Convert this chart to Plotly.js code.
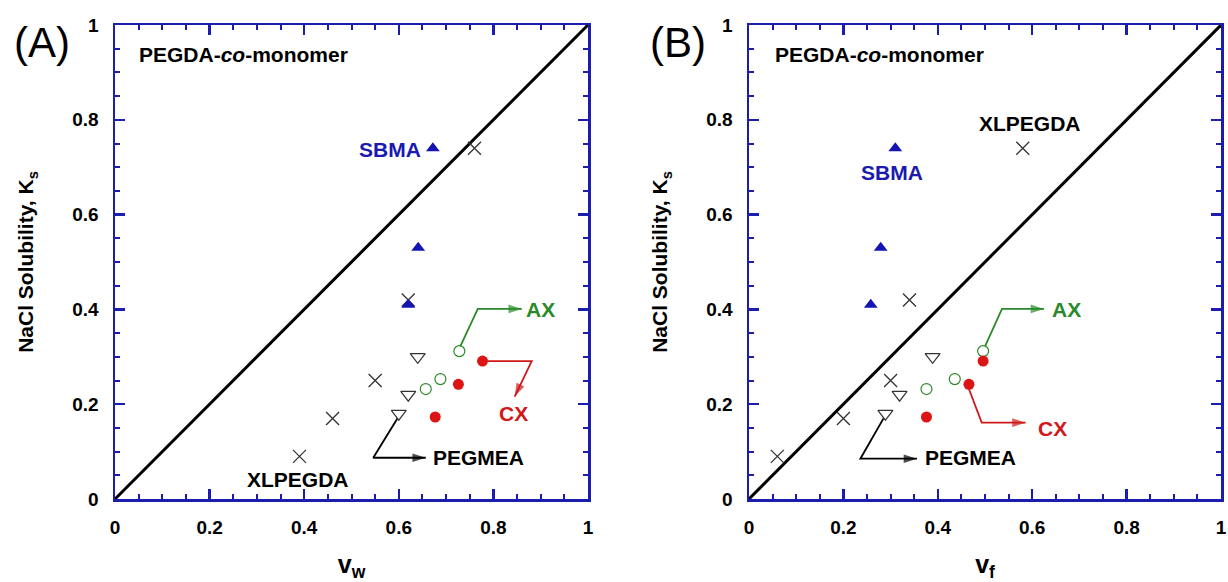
<!DOCTYPE html>
<html>
<head>
<meta charset="utf-8">
<script src="https://cdn.plot.ly/plotly-3.0.1.min.js"></script>
<style>html,body{margin:0;padding:0;background:#fff}#chart{width:1228px;height:582px}</style>
</head>
<body>
<div id="chart"></div>
<script>
// ---- Data ----
// NaCl solubility Ks for each series
const xlpegdaKs = [0.09, 0.17, 0.25, 0.42, 0.74];
const sbmaKs    = [0.74, 0.53, 0.41];
const pegmeaKs  = [0.30, 0.22, 0.18];
const axKs      = [0.312, 0.253, 0.232];
const cxKs      = [0.291, 0.242, 0.173];
// Panel A: v_w
const xlpegdaVw = [0.39, 0.46, 0.55, 0.62, 0.76];
const sbmaVw    = [0.672, 0.641, 0.62];
const pegmeaVw  = [0.64, 0.62, 0.60];
const axVw      = [0.728, 0.688, 0.657];
const cxVw      = [0.777, 0.726, 0.677];
// Panel B: v_f
const xlpegdaVf = [0.06, 0.20, 0.30, 0.34, 0.58];
const sbmaVf    = [0.31, 0.279, 0.258];
const pegmeaVf  = [0.389, 0.319, 0.289];
const axVf      = [0.496, 0.436, 0.376];
const cxVf      = [0.496, 0.466, 0.376];
// Parity line
const parityX = [0, 1];
const parityY = [0, 1];
// Axis ticks
const tickVals = [0, 0.2, 0.4, 0.6, 0.8, 1];
const tickText = ['0', '0.2', '0.4', '0.6', '0.8', '1'];

// ---- Annotation positions (label placement, data coords) ----
const labelsA = [
  {t:'<b>PEGDA-<i>co</i>-monomer</b>', x:0.047, y:0.937, c:'#000', a:'left'},
  {t:'<b>SBMA</b>', x:0.652, y:0.738, c:'#1a1ab0', a:'right'},
  {t:'<b>XLPEGDA</b>', x:0.387, y:0.041, c:'#000', a:'center'},
  {t:'<b>PEGMEA</b>', x:0.668, y:0.087, c:'#000', a:'left'},
  {t:'<b>AX</b>', x:0.865, y:0.400, c:'#2a8a2a', a:'left'},
  {t:'<b>CX</b>', x:0.842, y:0.181, c:'#d01818', a:'center'}
];
const labelsB = [
  {t:'<b>PEGDA-<i>co</i>-monomer</b>', x:0.05, y:0.937, c:'#000', a:'left'},
  {t:'<b>SBMA</b>', x:0.304, y:0.688, c:'#1a1ab0', a:'center'},
  {t:'<b>XLPEGDA</b>', x:0.596, y:0.793, c:'#000', a:'center'},
  {t:'<b>PEGMEA</b>', x:0.368, y:0.087, c:'#000', a:'left'},
  {t:'<b>AX</b>', x:0.637, y:0.400, c:'#2a8a2a', a:'left'},
  {t:'<b>CX</b>', x:0.607, y:0.149, c:'#d01818', a:'left'}
];
// Arrow polylines: start, corner, tip
const arrowsA = [
  {x:[0.597, 0.546, 0.657], y:[0.170, 0.087, 0.087], c:'#000'},
  {x:[0.730, 0.767, 0.860], y:[0.322, 0.401, 0.401], c:'#2a8a2a'},
  {x:[0.788, 0.881, 0.845], y:[0.291, 0.291, 0.216], c:'#d01818'}
];
const arrowsB = [
  {x:[0.285, 0.236, 0.356], y:[0.170, 0.085, 0.085], c:'#000'},
  {x:[0.500, 0.536, 0.625], y:[0.322, 0.401, 0.401], c:'#2a8a2a'},
  {x:[0.466, 0.493, 0.586], y:[0.232, 0.161, 0.161], c:'#d01818'}
];

const FONT = 'Liberation Sans, Arial, Helvetica, sans-serif';
const BLUE = '#1c1cae';

function series(xs, ys, xa, ya, marker) {
  return {x: xs, y: ys, xaxis: xa, yaxis: ya, type: 'scatter', mode: 'markers',
          marker: marker, showlegend: false, hoverinfo: 'x+y', cliponaxis: false};
}
const mXL  = {symbol: 'x-thin-open', size: 13, color: '#333', line: {color: '#333', width: 1.3}};
const mSB  = {symbol: 'triangle-up', size: 12, color: '#1414b4', line: {width: 0}};
const mPG  = {symbol: 'triangle-down-open', size: 13, color: '#333', line: {color: '#333', width: 1.2}};
const mAX  = {symbol: 'circle-open', size: 11, color: '#2a8a2a', line: {color: '#2a8a2a', width: 1.2}};
const mCX  = {symbol: 'circle', size: 11, color: '#dd1414', line: {width: 0}};

const traces = [];
function panel(xa, ya, xl, sb, pg, ax, cx, arrows) {
  traces.push({x: parityX, y: parityY, xaxis: xa, yaxis: ya, type: 'scatter', mode: 'lines',
               line: {color: '#000', width: 3}, showlegend: false, hoverinfo: 'skip'});
  arrows.forEach(a => traces.push({x: a.x, y: a.y, xaxis: xa, yaxis: ya, type: 'scatter',
               mode: 'lines+markers', line: {color: a.c, width: 1.8, backoff: 'auto'},
               marker: {symbol: ['circle', 'circle', 'arrow'], size: [0, 0, 14], color: a.c,
                        angleref: 'previous', line: {width: 0}},
               showlegend: false, hoverinfo: 'skip', cliponaxis: false}));
  traces.push(series(xl, xlpegdaKs, xa, ya, mXL));
  traces.push(series(sb, sbmaKs, xa, ya, mSB));
  traces.push(series(pg, pegmeaKs, xa, ya, mPG));
  traces.push(series(ax, axKs, xa, ya, mAX));
  traces.push(series(cx, cxKs, xa, ya, mCX));
}
panel('x', 'y', xlpegdaVw, sbmaVw, pegmeaVw, axVw, cxVw, arrowsA);
panel('x2', 'y2', xlpegdaVf, sbmaVf, pegmeaVf, axVf, cxVf, arrowsB);

const annotations = [];
function addLabels(labels, xr, yr) {
  labels.forEach(l => annotations.push({text: l.t, x: l.x, y: l.y, xref: xr, yref: yr,
    xanchor: l.a, yanchor: 'middle', showarrow: false,
    font: {family: FONT, size: 21, color: l.c}}));
}
addLabels(labelsA, 'x', 'y');
addLabels(labelsB, 'x2', 'y2');
annotations.push({text: '(A)', xref: 'paper', yref: 'paper', x: 41.5/1228, y: 1 - 43/582,
  xanchor: 'center', yanchor: 'middle', showarrow: false, font: {family: FONT, size: 42, color: '#000'}});
annotations.push({text: '(B)', xref: 'paper', yref: 'paper', x: 678/1228, y: 1 - 43/582,
  xanchor: 'center', yanchor: 'middle', showarrow: false, font: {family: FONT, size: 42, color: '#000'}});

function axisBase(domain, anchor) {
  return {domain: domain, anchor: anchor, range: [0, 1], showgrid: false, zeroline: false,
    showline: true, linecolor: BLUE, linewidth: 2.5, mirror: 'ticks',
    ticks: 'inside', ticklen: 10, tickwidth: 2.5, tickcolor: BLUE,
    tickvals: tickVals, ticktext: tickText, ticklabelstandoff: 10,
    minor: {ticks: 'inside', ticklen: 5, tickwidth: 2, tickcolor: BLUE, dtick: 0.05},
    tickfont: {family: FONT, size: 19, color: '#000', weight: 'bold'}};
}
function xAxis(domain, anchor, sub) {
  const a = axisBase(domain, anchor);
  a.title = {text: '<b>v<sub>' + sub + '</sub></b>', standoff: 26,
             font: {family: FONT, size: 25, color: '#000'}};
  return a;
}
function yAxis(domain, anchor) {
  const a = axisBase(domain, anchor);
  a.title = {text: '<b>NaCl Solubility, K<sub>s</sub></b>', standoff: 33,
             font: {family: FONT, size: 21, color: '#000'}};
  return a;
}
const yDom = [1 - 499/582, 1 - 25/582];
const layout = {
  width: 1228, height: 582,
  margin: {l: 0, r: 0, t: 0, b: 0},
  paper_bgcolor: '#fff', plot_bgcolor: '#fff',
  font: {family: FONT},
  xaxis: xAxis([115/1228, 588/1228], 'y', 'w'),
  yaxis: yAxis(yDom, 'x'),
  xaxis2: xAxis([749/1228, 1221/1228], 'y2', 'f'),
  yaxis2: yAxis(yDom, 'x2'),
  annotations: annotations,
  showlegend: false
};
Plotly.newPlot('chart', traces, layout, {displayModeBar: false, staticPlot: true});
</script>
</body>
</html>
